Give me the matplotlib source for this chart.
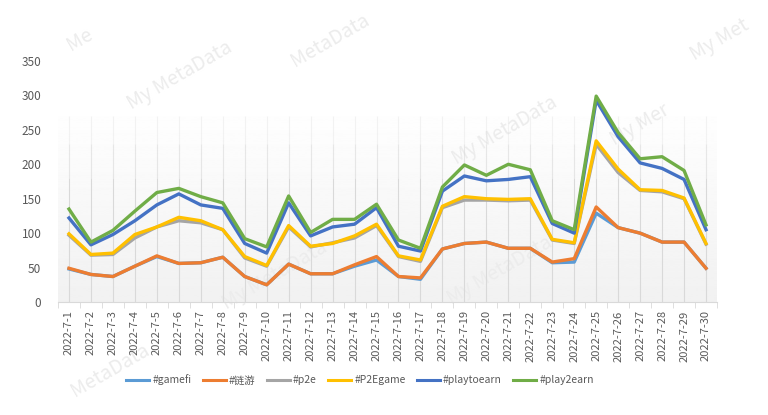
import numpy as np
import matplotlib.pyplot as plt
from matplotlib.lines import Line2D

plt.rcParams['font.family'] = ['Noto Sans CJK SC', 'DejaVu Sans']

dates = ['2022-7-%d' % d for d in range(1, 31)]

gamefi = [48, 40, 37, 52, 66, 56, 57, 65, 37, 25, 55, 41, 41, 52, 61, 37, 33, 77, 85, 87,
          78, 78, 57, 58, 129, 108, 100, 87, 87, 49]
lianyou = [49, 40, 37, 52, 67, 56, 57, 65, 37, 25, 55, 41, 41, 54, 66, 37, 35, 77, 85, 87,
           78, 78, 58, 63, 138, 108, 100, 87, 87, 49]
p2e = [97, 68, 69, 93, 109, 118, 115, 105, 64, 52, 109, 80, 86, 93, 111, 66, 59, 137, 148, 148,
       147, 148, 90, 85, 229, 188, 162, 160, 150, 84]
p2egame = [99, 69, 71, 98, 109, 123, 118, 105, 66, 53, 111, 81, 85, 96, 113, 67, 61, 139, 153, 150,
           149, 150, 91, 86, 234, 193, 163, 162, 151, 85]
playtoearn = [122, 83, 98, 118, 141, 157, 141, 136, 85, 71, 144, 96, 109, 113, 137, 81, 74, 161, 183, 176,
              178, 182, 114, 100, 293, 240, 202, 194, 178, 105]
play2earn = [135, 87, 104, 132, 159, 165, 153, 144, 92, 80, 154, 101, 120, 120, 142, 90, 78, 167, 199, 184,
             200, 192, 118, 105, 299, 246, 208, 211, 191, 112]

series = [
    ('#gamefi', gamefi, '#5B9BD5'),
    ('#链游', lianyou, '#ED7D31'),
    ('#p2e', p2e, '#A5A5A5'),
    ('#P2Egame', p2egame, '#FFC000'),
    ('#playtoearn', playtoearn, '#4472C4'),
    ('#play2earn', play2earn, '#70AD47'),
]

fig = plt.figure(figsize=(7.68, 4.15), dpi=100)
ax = fig.add_axes([58 / 768, 1 - 302 / 415, (717 - 58) / 768, (302 - 61) / 415])

x = np.arange(len(dates))

# shaded plot area: white at top, light gray at the bottom
grad = np.linspace(0.945, 1.0, 256).reshape(-1, 1)
ax.imshow(grad, extent=(-0.5, len(dates) - 0.5, 0, 290), origin='lower', aspect='auto',
          cmap='gray', vmin=0, vmax=1, zorder=0)
# gridlines fade out towards the top
for lo, hi, a in [(0, 180, 1.0), (180, 230, 0.6), (230, 270, 0.3)]:
    ax.vlines(x, lo, hi, color='#d9d9d9', lw=0.8, alpha=a, zorder=1)

for name, vals, col in series:
    ax.plot(x, vals, color=col, lw=2.4, solid_joinstyle='round', label=name, zorder=3)

ax.set_xlim(-0.5, len(dates) - 0.5)
ax.set_ylim(0, 350)
ax.set_yticks(range(0, 351, 50))
ax.set_xticks(x)
ax.set_xticklabels(dates, rotation=90, fontsize=8, color='#595959')
ax.set_xticks(np.arange(-0.5, len(dates), 1), minor=True)
ax.tick_params(axis='x', which='major', length=0, pad=6)
ax.tick_params(axis='x', which='minor', length=4, color='#d9d9d9')
ax.tick_params(axis='y', length=0, labelsize=8.5, labelcolor='#595959', pad=12)
for s in ['top', 'right', 'left']:
    ax.spines[s].set_visible(False)
ax.spines['bottom'].set_color('#d9d9d9')

handles = [Line2D([0], [0], color=c, lw=2.2) for _, _, c in series]
fig.legend(handles, [n for n, _, _ in series], loc='center', bbox_to_anchor=(360 / 768, 1 - 380 / 415),
           ncol=6, frameon=False, fontsize=7.5, handlelength=2.2, handletextpad=0.3,
           columnspacing=1.1, labelcolor='#595959')

# faint watermarks, kept behind the lines
for px, py, txt in [(180, 75, 'My MetaData'), (505, 130, 'My MetaData'), (275, 275, 'My MetaData'),
                    (720, 40, 'My Met'), (640, 125, 'My Mer'), (500, 270, 'My MetaData'),
                    (110, 370, 'MetaData'), (80, 40, 'Me'), (330, 40, 'MetaData')]:
    ax.text(px / 768, 1 - py / 415, txt, transform=fig.transFigure, fontsize=14, color='#ececec',
            rotation=30, ha='center', va='center', zorder=0.5, clip_on=False)

fig.savefig('out.png', dpi=100, facecolor='white')
